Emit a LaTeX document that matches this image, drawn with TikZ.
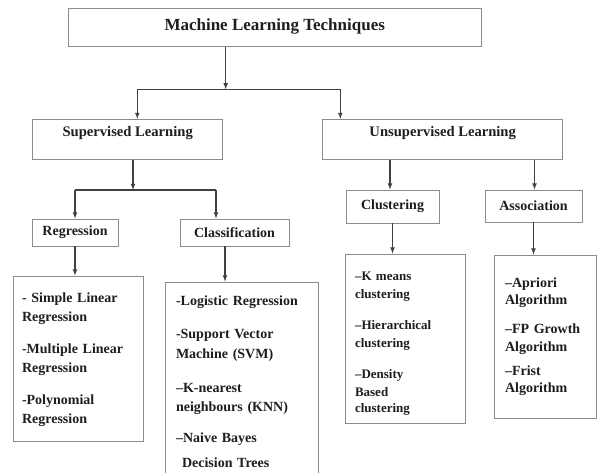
\documentclass[tikz,border=0pt]{standalone}
\usepackage{fontspec}
\setmainfont{Liberation Serif}
\definecolor{boxgray}{HTML}{8C8C8C}
\definecolor{arrgray}{HTML}{404040}
\definecolor{txtgray}{HTML}{1E1E1E}
\tikzset{
    box/.style={draw=boxgray, line width=0.9pt, fill=white, text=txtgray, inner sep=0pt},
    listbox/.style={box, align=left, inner ysep=0pt},
    titlefont/.style={font=\bfseries\fontsize{17}{20}\selectfont},
    midfont/.style={font=\bfseries\fontsize{14.6}{17}\selectfont, text depth=16pt},
    subfont/.style={font=\bfseries\fontsize{14}{17}\selectfont},
    arr/.style={draw=arrgray, line width=1.1pt, -latex},
    joinline/.style={draw=arrgray, line width=1.1pt},
}

\begin{document}
\begin{tikzpicture}[x=1pt, y=-1pt]
        \useasboundingbox[fill=white] (0,0) rectangle (597,472);
        %top boxes
            \node[box, titlefont, minimum width=413, minimum height=38.4, text depth=6pt] (mlt) at (274.7,27.5) {Machine Learning Techniques};
            \node[box, midfont, minimum width=190, minimum height=40] (sup) at (127.7,139.3) {Supervised Learning};
            \node[box, midfont, minimum width=240, minimum height=40] (unsup) at (442.7,139.3) {Unsupervised Learning};
        %sub boxes
            \node[box, subfont, minimum width=86, minimum height=27] (reg) at (75,232.5) {Regression};
            \node[box, subfont, minimum width=109, minimum height=27] (cls) at (234.5,232.5) {Classification};
            \node[box, subfont, minimum width=93, minimum height=33] (clu) at (392.5,206.5) {Clustering};
            \node[box, subfont, minimum width=97, minimum height=32] (asc) at (533.5,206) {Association};
        %lists
            \node[listbox, font=\bfseries\fontsize{14}{19.5}\selectfont, text width=112, inner xsep=9, minimum height=165] (reglist) at (78,358.5)
                {\rule{0pt}{12pt}- Simple Linear\\ Regression\\[12pt] -Multiple Linear\\ Regression\\[12pt] -Polynomial\\ Regression};
            \node[listbox, font=\bfseries\fontsize{14}{19.5}\selectfont, text width=131, inner xsep=11, minimum height=192] (clslist) at (241.5,378)
                {\rule{0pt}{18pt}-Logistic Regression\\[13.5pt] -Support Vector\\ Machine (SVM)\\[14.5pt] --K-nearest\\ neighbours (KNN)\\[11.5pt] --Naive Bayes\\[5.5pt] \hspace*{6pt}Decision Trees};
            \node[listbox, font=\bfseries\fontsize{13}{17.5}\selectfont, text width=100, inner xsep=10, minimum height=169] (clulist) at (405,338.5)
                {\rule{0pt}{19pt}--K means\\ clustering\\[14pt] --Hierarchical\\ clustering\\[14pt] --Density\\ Based\\[-1.5pt] clustering};
            \node[listbox, font=\bfseries\fontsize{14}{17.5}\selectfont, text width=80, inner xsep=11, minimum height=163] (asclist) at (545,336.5)
                {--Apriori\\ Algorithm\\[11.5pt] --FP Growth\\ Algorithm\\[6.5pt] --Frist\\ Algorithm};
        % lines
            \coordinate (t1) at (225.7,89.3);
            \coordinate (t1l) at (137.3,89.3);
            \coordinate (t1r) at (340.3,89.3);
            \draw[arr] (mlt.south -| t1) -- (t1);
            \draw[joinline] (t1l) -- (t1r);
            \draw[arr] (t1l) -- (t1l |- sup.north);
            \draw[arr] (t1r) -- (t1r |- unsup.north);
            \coordinate (s1) at (133,190);
            \coordinate (s1l) at (75,190);
            \coordinate (s1r) at (216,190);
            \draw[arr] (sup.south -| s1) -- (s1);
            \draw[joinline] (s1l) -- (s1r);
            \draw[arr] (s1l) -- (s1l |- reg.north);
            \draw[arr] (s1r) -- (s1r |- cls.north);
            \coordinate (u1) at (390,0);
            \coordinate (u2) at (534.5,0);
            \draw[arr] (unsup.south -| u1) -- (clu.north -| u1);
            \draw[arr] (unsup.south -| u2) -- (asc.north -| u2);
        % list arrows
            \coordinate (c1) at (225,0);
            \draw[arr] (reg.south) -- (reg.south |- reglist.north);
            \draw[arr] (cls.south -| c1) -- (clslist.north -| c1);
            \draw[arr] (clu.south) -- (clu.south |- clulist.north);
            \draw[arr] (asc.south) -- (asc.south |- asclist.north);
    \end{tikzpicture}
\end{document}
